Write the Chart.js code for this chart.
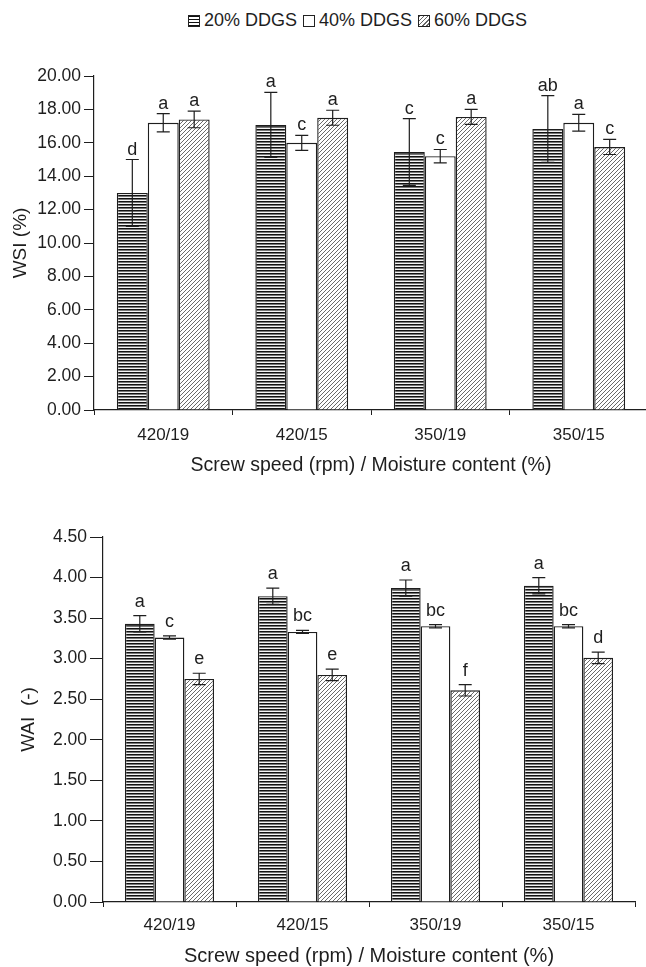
<!DOCTYPE html>
<html>
<head>
<meta charset="utf-8">
<script src="https://cdn.jsdelivr.net/npm/chart.js@4/dist/chart.umd.min.js"></script>
<style>
  html, body { margin:0; padding:0; background:#fff; }
  body { width:646px; height:967px; overflow:hidden; position:relative; font-family:"Liberation Sans", Arial, sans-serif; color:#1e1e1e; }
  #top { position:absolute; left:0; top:0; }
  #bot { position:absolute; left:0; top:490px; }
  #legend { position:absolute; left:188px; top:10px; display:flex; align-items:center; font-size:18px; white-space:nowrap; }
  .sw { display:inline-block; width:10px; height:10px; border:1px solid #222; margin-right:4px; }
  .it { display:flex; align-items:center; margin-right:6px; }
  .h { background: repeating-linear-gradient(0deg, #111 0 1px, #fff 1px 3px); }
  .w { background:#fff; }
  .d { background: repeating-linear-gradient(135deg, #666 0 1px, #fff 1px 3px); }
</style>
</head>
<body>
<div id="legend">
  <span class="it"><span class="sw h"></span><span>20% DDGS</span></span>
  <span class="it"><span class="sw w"></span><span>40% DDGS</span></span>
  <span class="it"><span class="sw d"></span><span>60% DDGS</span></span>
</div>
<canvas id="top" width="660" height="480"></canvas>
<canvas id="bot" width="646" height="477"></canvas>
<script>
// ---------- data ----------
const categories = ['420/19', '420/15', '350/19', '350/15'];
const seriesNames = ['20% DDGS', '40% DDGS', '60% DDGS'];

const wsi20 = [13.0, 17.07, 15.45, 16.83];
const wsi40 = [17.2, 16.0, 15.2, 17.2];
const wsi60 = [17.4, 17.5, 17.55, 15.75];
const wsi20Err = [2.0, 1.95, 2.0, 2.0];
const wsi40Err = [0.55, 0.45, 0.4, 0.5];
const wsi60Err = [0.5, 0.45, 0.45, 0.45];
const wsi20Letters = ['d', 'a', 'c', 'ab'];
const wsi40Letters = ['a', 'c', 'c', 'a'];
const wsi60Letters = ['a', 'a', 'a', 'c'];

const wai20 = [3.43, 3.77, 3.87, 3.90];
const wai40 = [3.26, 3.33, 3.40, 3.40];
const wai60 = [2.75, 2.80, 2.61, 3.01];
const wai20Err = [0.1, 0.1, 0.1, 0.1];
const wai40Err = [0.02, 0.02, 0.02, 0.02];
const wai60Err = [0.07, 0.07, 0.07, 0.07];
const wai20Letters = ['a', 'a', 'a', 'a'];
const wai40Letters = ['c', 'bc', 'bc', 'bc'];
const wai60Letters = ['e', 'e', 'f', 'd'];

const wsiTicks = [0, 2, 4, 6, 8, 10, 12, 14, 16, 18, 20];
const waiTicks = [0, 0.5, 1, 1.5, 2, 2.5, 3, 3.5, 4, 4.5];

// ---------- patterns ----------
function hPattern(ctx) {
  const c = document.createElement('canvas'); c.width = 4; c.height = 3;
  const x = c.getContext('2d');
  x.fillStyle = '#f4f4f4'; x.fillRect(0, 0, 4, 3);
  x.fillStyle = '#111'; x.fillRect(0, 0, 4, 1);
  x.fillStyle = '#777'; x.fillRect(0, 1, 4, 1);
  return ctx.createPattern(c, 'repeat');
}
function dPattern(ctx) {
  const n = 4;
  const c = document.createElement('canvas'); c.width = n; c.height = n;
  const x = c.getContext('2d');
  x.fillStyle = '#fff'; x.fillRect(0, 0, n, n);
  x.strokeStyle = '#6a6a6a'; x.lineWidth = 1;
  x.beginPath();
  x.moveTo(-1, n + 1); x.lineTo(n + 1, -1);
  x.moveTo(-1, 1); x.lineTo(1, -1);
  x.moveTo(n - 1, n + 1); x.lineTo(n + 1, n - 1);
  x.stroke();
  return ctx.createPattern(c, 'repeat');
}

const FONT = '"Liberation Sans", Arial, sans-serif';
const INK = '#1e1e1e';

const errPlugin = {
  id: 'errbars',
  afterDatasetsDraw(chart) {
    const ctx = chart.ctx;
    const ys = chart.scales.y;
    const cfg = chart.options.plugins.errbars;
    ctx.save();
    ctx.strokeStyle = INK; ctx.fillStyle = INK; ctx.lineWidth = 1.2;
    ctx.font = '18px ' + FONT; ctx.textAlign = 'center'; ctx.textBaseline = 'alphabetic';
    chart.data.datasets.forEach((ds, i) => {
      const meta = chart.getDatasetMeta(i);
      meta.data.forEach((bar, j) => {
        const v = ds.data[j], e = ds.errs[j];
        const yt = ys.getPixelForValue(v + e), yb = ys.getPixelForValue(v - e);
        const x = bar.x, hw = cfg.cap;
        ctx.beginPath();
        ctx.moveTo(x, yt); ctx.lineTo(x, yb);
        ctx.moveTo(x - hw, yt); ctx.lineTo(x + hw, yt);
        ctx.moveTo(x - hw, yb); ctx.lineTo(x + hw, yb);
        ctx.stroke();
        ctx.fillText(ds.letters[j], x, yt - cfg.gap);
      });
    });
    ctx.restore();
  }
};

function makeChart(id, opt) {
  const el = document.getElementById(id);
  const ctx = el.getContext('2d');
  const hp = hPattern(ctx), dp = dPattern(ctx);
  const fills = [hp, '#ffffff', dp];
  const datasets = opt.series.map((s, i) => ({
    label: seriesNames[i],
    data: s.values,
    errs: s.errs,
    letters: s.letters,
    backgroundColor: fills[i],
    borderColor: INK,
    borderWidth: 1.4,
    borderSkipped: 'bottom',
    categoryPercentage: 0.67,
    barPercentage: 1.0
  }));
  return new Chart(el, {
    type: 'bar',
    data: { labels: categories, datasets },
    plugins: [errPlugin],
    options: {
      responsive: false, animation: false, devicePixelRatio: 1,
      layout: { padding: { top: opt.padTop, right: opt.padRight, bottom: 0, left: 0 } },
      plugins: {
        legend: { display: false }, tooltip: { enabled: false },
        errbars: { cap: 6.5, gap: opt.letterGap }
      },
      scales: {
        x: {
          grid: { display: true, drawOnChartArea: false, drawTicks: true, tickLength: 5, color: INK, lineWidth: 1, offset: true },
          border: { display: true, color: INK, width: 1.2 },
          ticks: { color: INK, font: { family: FONT, size: 17 }, padding: opt.xTickPad },
          title: { display: true, text: 'Screw speed (rpm) / Moisture content (%)', color: INK,
                   font: { family: FONT, size: opt.xTitleSize }, padding: { top: 0, bottom: opt.xTitlePad } },
          afterFit: s => { s.height = opt.xHeight; }
        },
        y: {
          min: opt.ticks[0], max: opt.ticks[opt.ticks.length - 1],
          afterBuildTicks: s => { s.ticks = opt.ticks.map(v => ({ value: v })); },
          grid: { display: true, drawOnChartArea: false, drawTicks: true, tickLength: opt.yTickLen, color: INK, lineWidth: 1 },
          border: { display: true, color: INK, width: 1.2 },
          ticks: { color: INK, font: { family: FONT, size: 17.5 }, padding: 3, callback: v => Number(v).toFixed(2) },
          title: { display: true, text: opt.yTitle, color: INK, font: { family: FONT, size: 19 },
                   padding: { top: opt.yTitlePad, bottom: 0 } },
          afterFit: s => { s.width = opt.yWidth; }
        }
      }
    }
  });
}

makeChart('top', {
  series: [
    { values: wsi20, errs: wsi20Err, letters: wsi20Letters },
    { values: wsi40, errs: wsi40Err, letters: wsi40Letters },
    { values: wsi60, errs: wsi60Err, letters: wsi60Letters }
  ],
  ticks: wsiTicks, yTitle: 'WSI (%)',
  padTop: 76, padRight: 12, yWidth: 94, xHeight: 70, yTickLen: 10,
  xTickPad: 10, xTitlePad: 3, xTitleSize: 19.5, yTitlePad: 9, letterGap: 5
});

makeChart('bot', {
  series: [
    { values: wai20, errs: wai20Err, letters: wai20Letters },
    { values: wai40, errs: wai40Err, letters: wai40Letters },
    { values: wai60, errs: wai60Err, letters: wai60Letters }
  ],
  ticks: waiTicks, yTitle: 'WAI  (-)',
  padTop: 47, padRight: 11, yWidth: 103, xHeight: 65, yTickLen: 13,
  xTickPad: 8, xTitlePad: -1, xTitleSize: 20, yTitlePad: 17, letterGap: 9
});
</script>
</body>
</html>
